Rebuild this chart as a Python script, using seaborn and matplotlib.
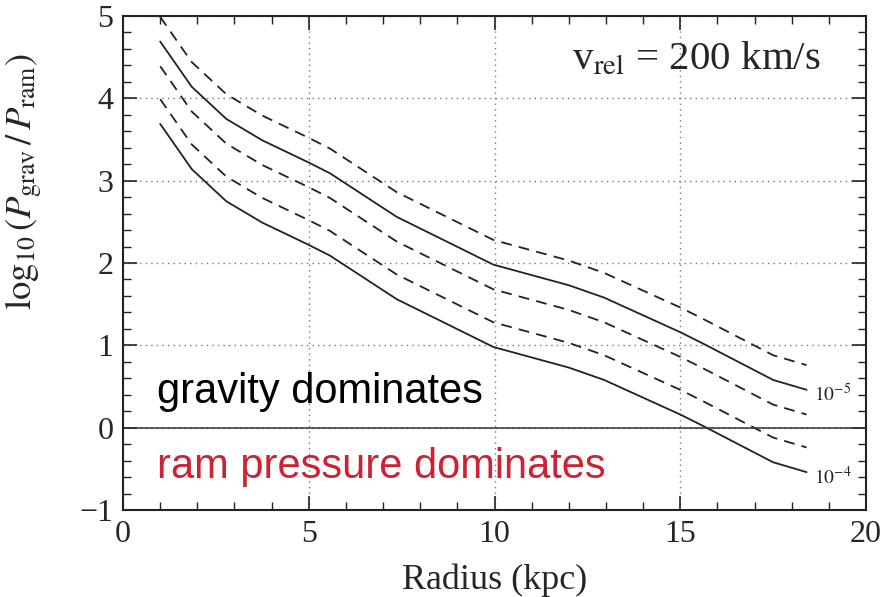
import matplotlib
matplotlib.use("Agg")
import matplotlib.pyplot as plt
import seaborn as sns
import pandas as pd
from matplotlib.ticker import MultipleLocator

# Data (radius in kpc, log10(P_grav/P_ram))
radius = [1.0, 1.85, 2.78, 3.75, 5.0, 5.57, 7.37, 9.97, 12.0, 12.95, 15.0, 15.62, 17.5, 18.4]
curve_5e6 = [4.99, 4.44, 4.05, 3.79, 3.52, 3.39, 2.86, 2.28, 2.03, 1.88, 1.46, 1.32, 0.88, 0.76]
curve_1e5 = [4.69, 4.14, 3.75, 3.49, 3.22, 3.09, 2.56, 1.98, 1.73, 1.58, 1.16, 1.02, 0.58, 0.46]
curve_2e5 = [4.39, 3.84, 3.45, 3.19, 2.92, 2.79, 2.26, 1.68, 1.43, 1.28, 0.86, 0.72, 0.28, 0.16]
curve_5e5 = [3.99, 3.44, 3.05, 2.79, 2.52, 2.39, 1.86, 1.28, 1.03, 0.88, 0.46, 0.32, -0.12, -0.24]
curve_1e4 = [3.69, 3.14, 2.75, 2.49, 2.22, 2.09, 1.56, 0.98, 0.73, 0.58, 0.16, 0.02, -0.42, -0.54]

series_names = ["5e-6", "1e-5", "2e-5", "5e-5", "1e-4"]
series_values = [curve_5e6, curve_1e5, curve_2e5, curve_5e5, curve_1e4]
series_dashed = [True, False, True, True, False]

end_labels = {"1e-5": r"$10^{-5}$", "1e-4": r"$10^{-4}$"}

sns.set_style("ticks")
plt.rcParams["font.family"] = ["Liberation Serif", "DejaVu Serif"]
plt.rcParams["mathtext.fontset"] = "stix"
plt.rcParams["axes.unicode_minus"] = True

fig = plt.figure(figsize=(8.87, 5.97), dpi=100)
ax = fig.add_axes([0.1387, 0.1457, 0.9763 - 0.1387, 0.9732 - 0.1457])

rows = []
for name, vals in zip(series_names, series_values):
    for r, v in zip(radius, vals):
        rows.append({"radius": r, "value": v, "series": name})
df = pd.DataFrame(rows)

dash_map = {n: ((6, 4) if d else "") for n, d in zip(series_names, series_dashed)}
sns.lineplot(data=df, x="radius", y="value", style="series", dashes=dash_map,
             color="#222222", linewidth=1.3, ax=ax, legend=False, sort=True,
             estimator=None)

# end labels
for name, vals in zip(series_names, series_values):
    if name in end_labels:
        ax.text(radius[-1] + 0.2, vals[-1] - 0.06, end_labels[name],
                fontsize=14, va="center", ha="left", color="#222222")

ax.axhline(0, color="#333333", linewidth=1.1)

ax.set_xlim(0, 20)
ax.set_ylim(-1, 5)
ax.xaxis.set_major_locator(MultipleLocator(5))
ax.xaxis.set_minor_locator(MultipleLocator(1))
ax.yaxis.set_major_locator(MultipleLocator(1))
ax.yaxis.set_minor_locator(MultipleLocator(0.2))
ax.grid(True, which="major", linestyle=(0, (1, 3)), color="#777777", linewidth=1.0)
ax.tick_params(which="both", direction="in", top=True, right=True, labelsize=23,
               color="#222222")
ax.tick_params(which="major", length=10, width=1.2, pad=7)
ax.tick_params(which="minor", length=5.5, width=1.0)
for s in ax.spines.values():
    s.set_linewidth(1.5)
    s.set_color("#222222")

ax.set_xlabel("Radius (kpc)", fontsize=26)
ax.xaxis.set_label_coords(0.5, -0.108)
ax.set_ylabel(r"$\log_{10}(P_{\rm grav}\,/\,P_{\rm ram})$", fontsize=26.5)
ax.yaxis.set_label_coords(-0.105, 0.664)

ax.text(0.939, 0.912, r"v$_{\rm rel}$ = 200 km/s", transform=ax.transAxes,
        fontsize=29.5, ha="right", va="center")

ax.text(0.046, 0.2166, "gravity dominates", transform=ax.transAxes,
        fontsize=30, family=["Liberation Sans", "DejaVu Sans"], color="black",
        ha="left", va="baseline")
ax.text(0.046, 0.065, "ram pressure dominates", transform=ax.transAxes,
        fontsize=30, family=["Liberation Sans", "DejaVu Sans"], color="#cc2233",
        ha="left", va="baseline")

fig.savefig("out.png", dpi=100)
